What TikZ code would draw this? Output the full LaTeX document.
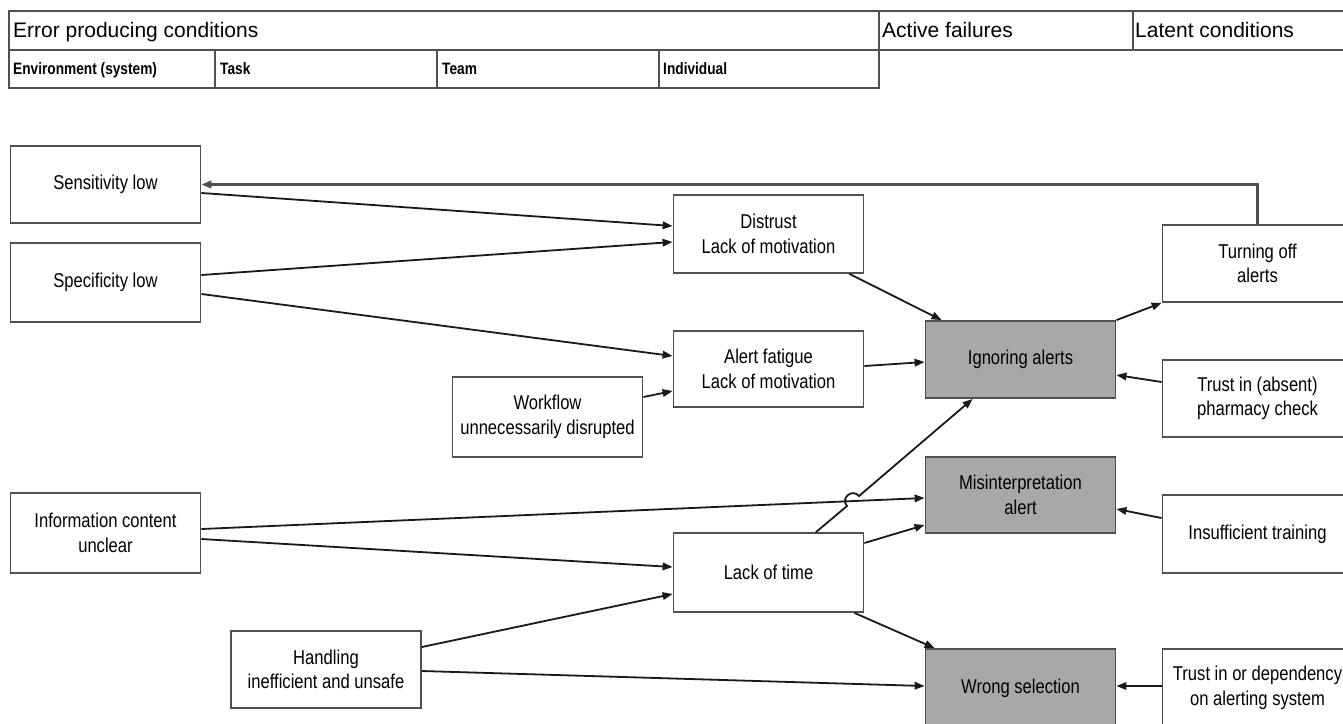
\documentclass[tikz,border=0pt]{standalone}
\usepackage{fontspec}
\setmainfont{Liberation Sans}
\newfontfamily\narrowfont{Liberation Sans}[FakeStretch=0.83]
\usetikzlibrary{arrows.meta,calc}
\definecolor{failgray}{RGB}{168,168,168}
\definecolor{linegray}{RGB}{80,80,80}
\begin{document}
\begin{tikzpicture}[x=1pt,y=-1pt,
  box/.style={draw=linegray, line width=1.8pt, fill=white, minimum width=190pt, minimum height=78pt, inner sep=0pt, align=center, font=\narrowfont\fontsize{20}{24.5}\selectfont},
  fail/.style={box, fill=failgray},
  conn/.style={-{Triangle[length=10pt,width=7.5pt]}, line width=1.8pt, black!90},
  hdr/.style={font=\fontsize{21}{25}\selectfont, anchor=base west, inner sep=0pt},
  sub/.style={font=\narrowfont\bfseries\fontsize{16.5}{19}\selectfont, anchor=base west, inner sep=0pt},
  tablegrid/.style={draw=linegray, line width=1.8pt}
]
\useasboundingbox (0,0) rectangle (1343,723);
\fill[white] (0,0) rectangle (1343,723);
\clip (0,0) rectangle (1343,723);

% header table
\draw[tablegrid] (9,11) rectangle (1360,50);
\draw[tablegrid] (9,50) rectangle (879,88);
\draw[tablegrid] (879,11) -- (879,50);
\draw[tablegrid] (1133,11) -- (1133,50);
\draw[tablegrid] (215,50) -- (215,88);
\draw[tablegrid] (437,50) -- (437,88);
\draw[tablegrid] (659,50) -- (659,88);

\node[hdr] (hepc) at (13,37) {Error producing conditions};
\node[hdr] (hact) at (882,37) {Active failures};
\node[hdr] (hlat) at (1135,37) {Latent conditions};
\node[sub] (senv) at (13,74) {Environment (system)};
\node[sub] (stask) at (220,74) {Task};
\node[sub] (steam) at (442,74) {Team};
\node[sub] (sind) at (663,74) {Individual};

% nodes
\node[box, minimum height=77pt] (sens) at (105.5,184.5) {Sensitivity low};
\node[box, minimum height=79pt] (spec) at (105.5,282.5) {Specificity low};
\node[box, minimum height=80pt] (info) at (105.5,533) {Information content\\unclear};
\node[box, minimum height=80pt] (work) at (547.5,417) {Workflow\\unnecessarily disrupted};
\node[box, minimum height=77pt] (hand) at (326,669.5) {Handling\\inefficient and unsafe};
\node[box] (distrust) at (768.5,234) {Distrust\\Lack of motivation};
\node[box, minimum height=76pt] (fatigue) at (768.5,369) {Alert fatigue\\Lack of motivation};
\node[box, minimum height=79pt] (ltime) at (768.5,572.5) {Lack of time};
\node[fail, minimum height=77pt] (ignore) at (1020.5,359.5) {Ignoring alerts};
\node[fail, minimum height=76pt] (misint) at (1020.5,495) {Misinterpretation\\alert};
\node[fail] (wrong) at (1020.5,688) {Wrong selection};
\node[box, minimum height=77pt] (turn) at (1257.5,263.5) {Turning off\\alerts};
\node[box, minimum height=77pt] (trusta) at (1257.5,398.5) {Trust in (absent)\\pharmacy check};
\node[box] (train) at (1257.5,534) {Insufficient training};
\node[box] (trustb) at (1257.5,688) {Trust in or dependency\\on alerting system};

% connectors
\draw[conn] ($(sens.east)+(0,8.5)$) -- ($(distrust.west)+(0,-8)$);
\draw[conn] ($(spec.east)+(0,-7.5)$) -- ($(distrust.west)+(0,8)$);
\draw[conn] ($(spec.east)+(0,11.5)$) -- ($(fatigue.west)+(0,-13)$);
\draw[conn] ($(work.east)+(0,-20)$) -- ($(fatigue.west)+(0,22)$);
\draw[conn] ($(distrust.south east)+(-15,0)$) -- ($(ignore.north west)+(17,0)$);
\draw[conn] ($(fatigue.east)+(0,-3)$) -- ($(ignore.west)+(0,2.5)$);
\draw[conn] (ignore.north east) -- (turn.south west);
\draw[conn] ($(trusta.west)+(0,-16.5)$) -- ($(ignore.east)+(0,15.5)$);
\draw[conn, draw=linegray, line width=2.4pt] (turn.north) |- (sens.east);
\draw[conn] ($(info.east)+(0,-4)$) -- ($(misint.west)+(0,3)$);
\draw[conn] ($(info.east)+(0,6)$) -- ($(ltime.west)+(0,-5.5)$);
\draw[conn] ($(hand.east)+(0,-22.5)$) -- ($(ltime.west)+(0,21.5)$);
\draw[conn] ($(hand.east)+(0,1.5)$) -- ($(wrong.west)+(0,-2)$);
\coordinate (hopA) at (847,506);
\coordinate (hopB) at (859,496);
\draw[conn] ($(ltime.north)+(47.5,0)$) -- (hopA) .. controls (840.2,498.1) and (852.2,488.1) .. (hopB) -- ($(ignore.south west)+(48,0)$);
\draw[conn] ($(ltime.east)+(0,-29.5)$) -- ($(misint.west)+(0,30)$);
\draw[conn] ($(ltime.south east)+(-10,0)$) -- ($(wrong.north west)+(10,0)$);
\draw[conn] ($(train.west)+(0,-16)$) -- ($(misint.east)+(0,14)$);
\draw[conn] ($(trustb.west)+(0,-2)$) -- ($(wrong.east)+(0,-2)$);
\end{tikzpicture}
\end{document}
